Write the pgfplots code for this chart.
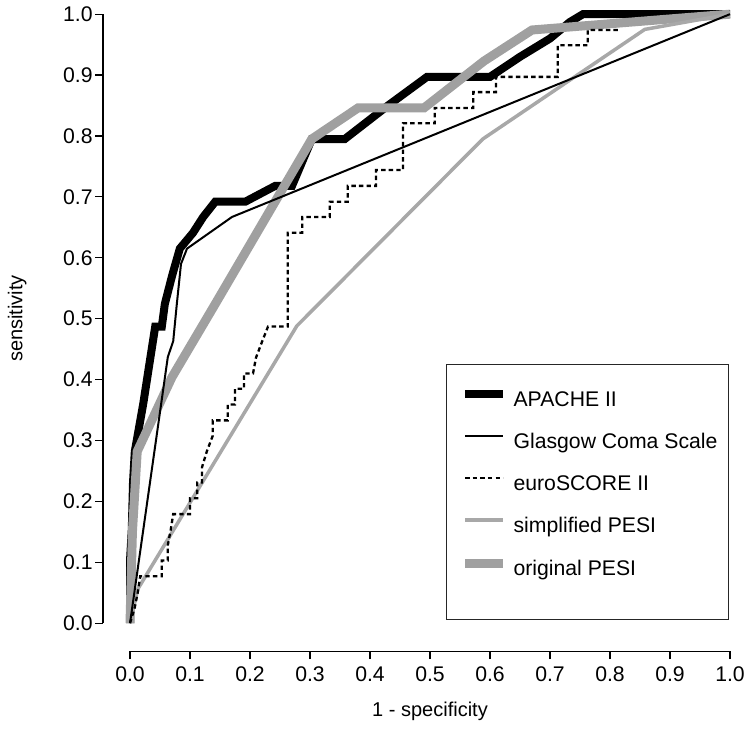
\documentclass[border=0pt]{standalone}
\usepackage{fontspec}
\setmainfont{Liberation Sans}
\usepackage{pgfplots}
\pgfplotsset{compat=1.18}
\definecolor{grayA}{RGB}{160,160,160}
\definecolor{grayB}{RGB}{168,168,168}
\newcommand{\ff}{\fontsize{10.6pt}{12pt}\selectfont}
\newcommand{\fl}{\fontsize{12.4pt}{14pt}\selectfont}
\begin{document}
\begin{tikzpicture}
\begin{axis}[
  width=300pt, height=304.5pt, scale only axis,
  xmin=0, xmax=1, ymin=0, ymax=1,
  axis x line*=bottom, axis y line*=left,
  axis x line shift=14pt, axis y line shift=13.5pt,
  axis line style={line width=0.6pt, black},
  xtick={0,0.1,0.2,0.3,0.4,0.5,0.6,0.7,0.8,0.9,1},
  ytick={0,0.1,0.2,0.3,0.4,0.5,0.6,0.7,0.8,0.9,1},
  tick align=outside, major tick length=4pt,
  tick style={line width=0.6pt, black},
  ticklabel style={font=\ff},
  xticklabel style={inner xsep=0pt},
  yticklabel style={inner xsep=1pt},
  /pgf/number format/.cd, fixed, fixed zerofill, precision=1, assume math mode=true, /pgfplots/.cd,
  xlabel={1 - specificity}, ylabel={sensitivity},
  label style={font=\fl},
  every axis x label/.style={at={(rel axis cs:0.5,-0.145)}, anchor=center},
  every axis y label/.style={at={(rel axis cs:-0.188,0.5)}, anchor=center, rotate=90},
  clip=false,
  legend cell align=left,
  legend image code/.code={\draw[#1] (0pt,3.5pt) -- (19pt,3.5pt);},
  legend style={at={(rel axis cs:0.551,0.3826)}, anchor=north west, draw=none, fill=none,
    inner sep=0pt, outer sep=0pt, row sep=11pt, column sep=3pt, font=\ff,
    nodes={inner sep=0pt, text height=7.5pt, text depth=2.5pt}},
]
\path (rel axis cs:-0.2167,-0.1905) rectangle (rel axis cs:1.025,1.0164);
\draw[line width=0.6pt, black!85] (rel axis cs:0.528,0.0066) rectangle (rel axis cs:0.998,0.425);

\addlegendimage{black, line width=4pt}
\addlegendentry{APACHE II}
\addlegendimage{black, line width=1pt}
\addlegendentry{Glasgow Coma Scale}
\addlegendimage{black, line width=1.15pt, dash pattern=on 2.2pt off 1.6pt}
\addlegendentry{euroSCORE II}
\addlegendimage{grayB, line width=1.75pt}
\addlegendentry{simplified PESI}
\addlegendimage{grayA, line width=4.5pt}
\addlegendentry{original PESI}

% APACHE II
\addplot[forget plot, black, line width=4pt] coordinates {
(0,0) (0,0.103) (0.003,0.154) (0.005,0.231) (0.008,0.282) (0.022,0.36) (0.033,0.43)
(0.042,0.487) (0.053,0.487) (0.058,0.524) (0.07,0.57) (0.083,0.615) (0.105,0.641)
(0.122,0.667) (0.142,0.692) (0.192,0.692) (0.242,0.718) (0.27,0.718) (0.303,0.795)
(0.358,0.795) (0.43,0.85) (0.495,0.897) (0.6,0.897) (0.65,0.93) (0.7,0.96)
(0.733,0.987) (0.755,1) (1,1)};

% original PESI
\addplot[forget plot, grayA, line width=4.5pt] coordinates {
(0,0) (0.004,0.15) (0.012,0.282) (0.07,0.404) (0.142,0.524) (0.303,0.795)
(0.38,0.846) (0.49,0.846) (0.59,0.923) (0.67,0.974) (1,1)};

% simplified PESI
\addplot[forget plot, grayB, line width=1.75pt] coordinates {
(0,0) (0.013,0.056) (0.278,0.488) (0.588,0.795) (0.858,0.975) (1,1)};

% euroSCORE II
\addplot[forget plot, black, line width=1.15pt, dash pattern=on 2.2pt off 1.6pt] coordinates {
(0,0) (0.008,0.026) (0.013,0.051) (0.017,0.077) (0.053,0.077) (0.053,0.103)
(0.063,0.103) (0.063,0.128) (0.068,0.154) (0.072,0.179) (0.1,0.179) (0.1,0.205)
(0.112,0.205) (0.112,0.231) (0.12,0.231) (0.12,0.256) (0.128,0.282) (0.138,0.308)
(0.138,0.333) (0.163,0.333) (0.163,0.359) (0.175,0.359) (0.175,0.385) (0.19,0.385)
(0.19,0.41) (0.205,0.41) (0.21,0.436) (0.22,0.462) (0.23,0.487) (0.263,0.487)
(0.263,0.641) (0.287,0.641) (0.287,0.667) (0.333,0.667) (0.333,0.692) (0.363,0.692)
(0.363,0.718) (0.41,0.718) (0.41,0.744) (0.455,0.744) (0.455,0.821) (0.508,0.821)
(0.508,0.846) (0.572,0.846) (0.572,0.872) (0.61,0.872) (0.61,0.897) (0.713,0.897)
(0.713,0.949) (0.763,0.949) (0.763,0.974) (0.813,0.974)};

% Glasgow Coma Scale
\addplot[forget plot, black, line width=1pt] coordinates {
(0,0) (0.063,0.437) (0.072,0.463) (0.078,0.524) (0.085,0.59) (0.095,0.615)
(0.17,0.667) (1,1)};
\end{axis}
\end{tikzpicture}
\end{document}
